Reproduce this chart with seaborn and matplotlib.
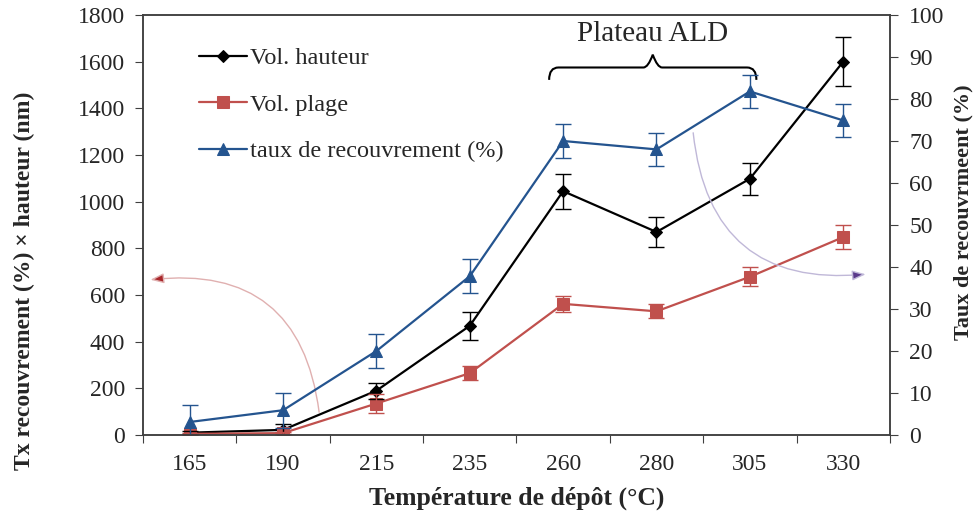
import numpy as np
import pandas as pd
import matplotlib.pyplot as plt
import seaborn as sns
from matplotlib.path import Path
from matplotlib.patches import PathPatch

temps = ['165', '190', '215', '235', '260', '280', '305', '330']
vol_hauteur = [10, 22, 190, 468, 1045, 870, 1098, 1600]
err_hauteur = [6, 25, 35, 60, 75, 65, 68, 105]
vol_plage = [5, 8, 135, 265, 562, 530, 678, 848]
err_plage = [4, 5, 40, 30, 35, 30, 40, 53]
taux = [3.1, 5.9, 20.0, 37.8, 70.0, 68.0, 81.8, 74.9]
err_taux = [4, 4.2, 4, 4, 4, 4, 4, 3.9]

sns.set_style('ticks')
plt.rcParams['font.family'] = ['Liberation Serif', 'DejaVu Serif']

colors = {'black': '#000000', 'red': '#c0504d', 'blue': '#24548f'}

df = pd.DataFrame({'pos': np.arange(len(temps)), 'hauteur': vol_hauteur,
                   'plage': vol_plage, 'taux': taux})

fig = plt.figure(figsize=(9.75, 5.17), dpi=100)
ax = fig.add_axes([0.1467, 0.1586, 0.766, 0.8124])
ax2 = ax.twinx()

sns.lineplot(x='pos', y='hauteur', data=df, ax=ax, color=colors['black'], marker='D',
             markersize=6, lw=1.6, label='Vol. hauteur', markeredgecolor=colors['black'])
sns.lineplot(x='pos', y='plage', data=df, ax=ax, color=colors['red'], marker='s',
             markersize=9, lw=1.6, label='Vol. plage', markeredgecolor=colors['red'])
sns.lineplot(x='pos', y='taux', data=df, ax=ax2, color=colors['blue'], marker='^',
             markersize=9, lw=1.6, label='taux de recouvrement (%)', markeredgecolor=colors['blue'])

ax.errorbar(df['pos'], vol_hauteur, yerr=err_hauteur, fmt='none', ecolor=colors['black'],
            elinewidth=1, capsize=6, capthick=1)
ax.errorbar(df['pos'], vol_plage, yerr=err_plage, fmt='none', ecolor=colors['red'],
            elinewidth=1, capsize=6, capthick=1)
ax2.errorbar(df['pos'], taux, yerr=err_taux, fmt='none', ecolor=colors['blue'],
             elinewidth=1, capsize=6, capthick=1)

# axes
ax.set_xlim(-0.5, 7.5)
ax.set_ylim(0, 1800)
ax2.set_ylim(0, 100)
ax.set_yticks(np.arange(0, 1801, 200))
ax2.set_yticks(np.arange(0, 101, 10))
ax.set_xticks(np.arange(-0.5, 8, 1))
ax.set_xticklabels([])
ax.set_xticks(np.arange(8), minor=True)
ax.set_xticklabels(temps, minor=True)
ax.tick_params(axis='x', which='minor', length=0, pad=14, labelsize=17)
ax.tick_params(axis='x', which='major', length=6, direction='out', color='#404040')
ax.tick_params(axis='y', length=6, direction='out', labelsize=17, pad=7, color='#404040')
ax2.tick_params(axis='y', length=6, direction='out', labelsize=17, pad=8, color='#404040')
for a in (ax, ax2):
    for s in a.spines.values():
        s.set_color('#404040')
        s.set_linewidth(1.1)

ax.set_xlabel('Température de dépôt (°C)', fontsize=18.5, fontweight='bold', labelpad=8)
ax.set_ylabel('Tx recouvrement (%) × hauteur (nm)', fontsize=17, fontweight='bold')
ax.yaxis.set_label_coords(-0.145, 0.367)
ax2.set_ylabel('Taux de recouvrmeent (%)', fontsize=16, fontweight='bold')
ax2.yaxis.set_label_coords(1.085, 0.53)

# legend
h1, l1 = ax.get_legend_handles_labels()
h2, l2 = ax2.get_legend_handles_labels()
if ax2.get_legend():
    ax2.get_legend().remove()
ax.legend(h1 + h2, l1 + l2, loc='upper left', bbox_to_anchor=(0.045, 0.975), frameon=False,
          fontsize=17.5, labelspacing=1.0, handlelength=2.0, handletextpad=0.1)

# brace "Plateau ALD"
x0, x1, xm = 3.85, 6.07, 4.96
yb, yt, ytip = 1522, 1575, 1630
verts = [(x0, yb), (x0, yt), (x0 + 0.1, yt), (x0 + 0.2, yt),
         (xm - 0.1, yt), (xm - 0.05, yt), (xm, ytip),
         (xm + 0.05, yt), (xm + 0.1, yt), (x1 - 0.2, yt),
         (x1 - 0.1, yt), (x1, yt), (x1, yb)]
codes = [Path.MOVETO, Path.CURVE3, Path.CURVE3, Path.LINETO,
         Path.LINETO, Path.CURVE3, Path.CURVE3,
         Path.CURVE3, Path.CURVE3, Path.LINETO,
         Path.LINETO, Path.CURVE3, Path.CURVE3]
ax.add_patch(PathPatch(Path(verts, codes), fill=False, lw=1.5, color='black'))
ax.text(xm, 1720, 'Plateau ALD', ha='center', va='center', fontsize=21)

# curved arrows
ax.annotate('', xy=(-0.45, 664), xytext=(1.39, 86),
            arrowprops=dict(arrowstyle='-|>,head_length=0.8,head_width=0.3', connectionstyle='arc3,rad=0.5',
                            edgecolor='#e0b0b0', facecolor='#a8262a', lw=1))
ax.annotate('', xy=(7.27, 690), xytext=(5.39, 1307),
            arrowprops=dict(arrowstyle='-|>,head_length=0.8,head_width=0.3', connectionstyle='arc3,rad=0.5',
                            edgecolor='#c0b8d8', facecolor='#5a3a8a', lw=1))

fig.savefig('out.png', dpi=100)
